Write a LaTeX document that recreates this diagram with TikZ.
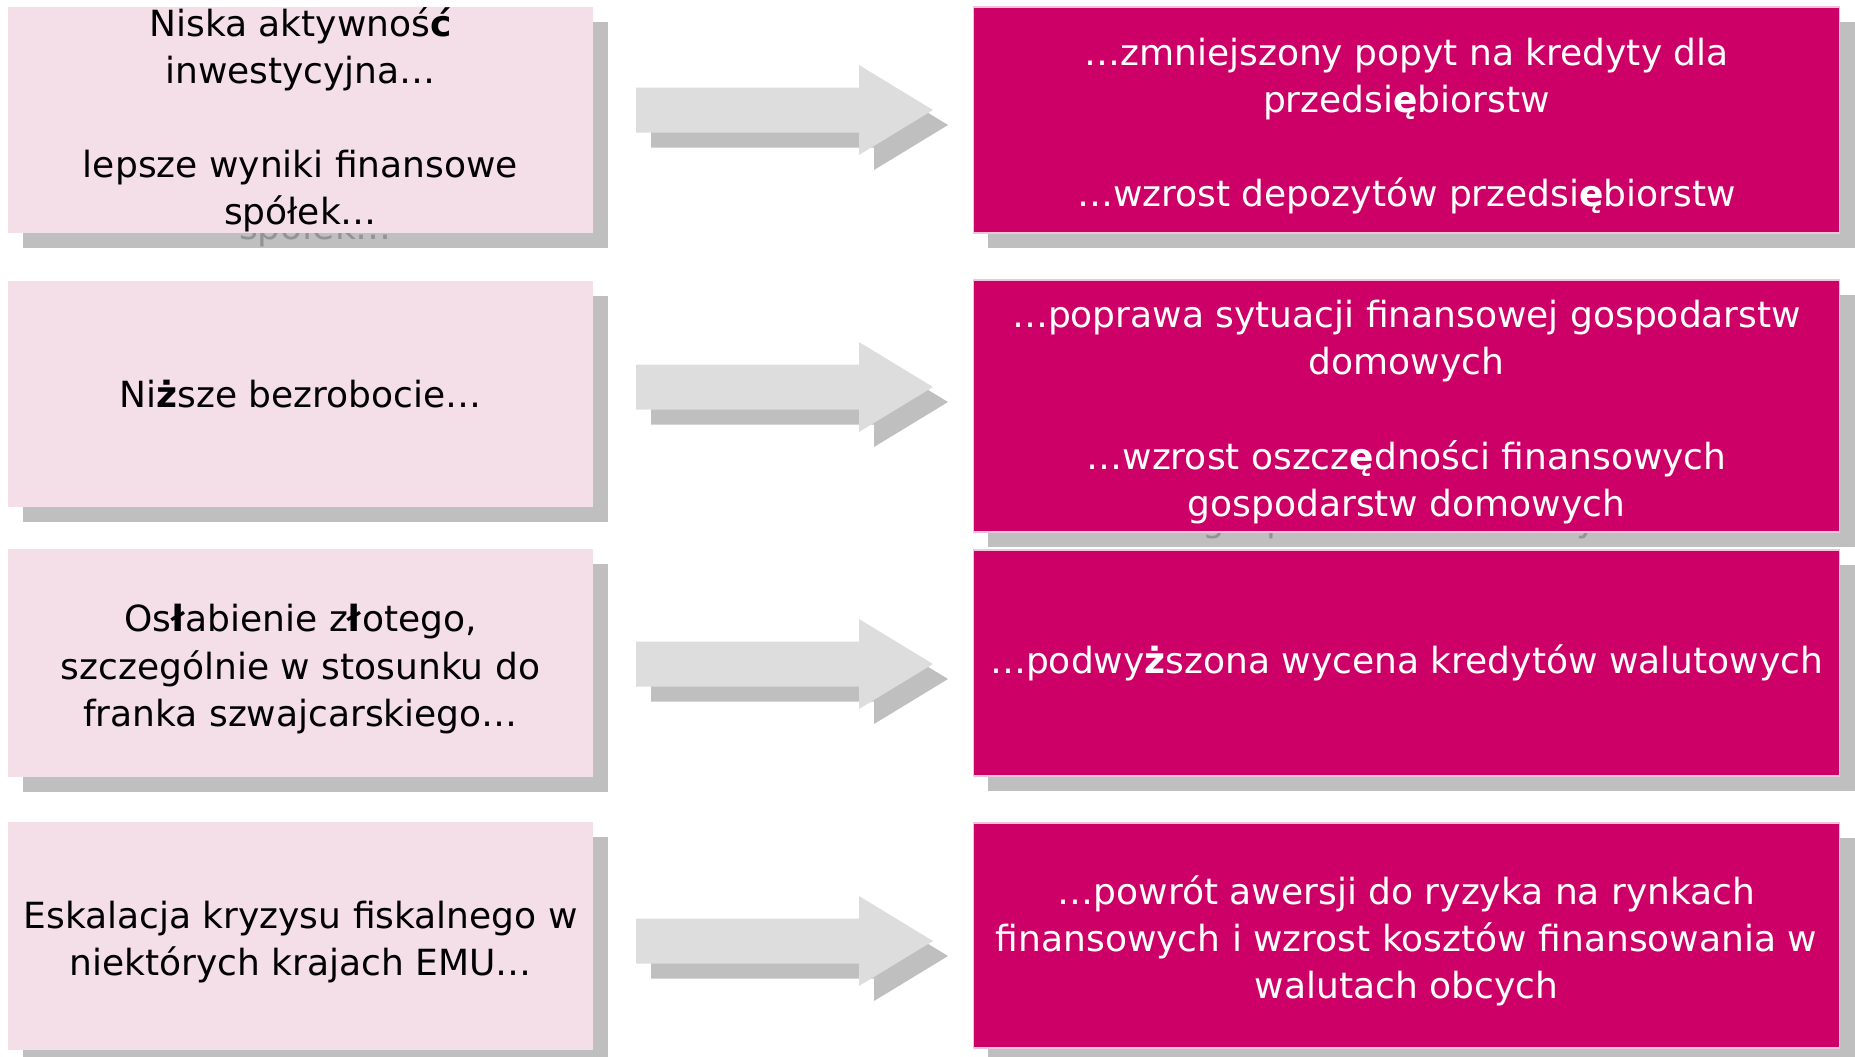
\documentclass[tikz,border=0pt]{standalone}
\usepackage{fontspec}
\setmainfont{DejaVu Sans}
\usetikzlibrary{calc}

\definecolor{srcpink}{HTML}{F4DEE7}
\definecolor{effmag}{HTML}{CC0066}
\definecolor{effedge}{HTML}{F2C4DA}
\definecolor{shadegray}{HTML}{BFBFBF}
\definecolor{ghostgray}{HTML}{939393}
\definecolor{arrowgray}{HTML}{DDDDDD}
\newcommand{\bc}[1]{\textbf{#1}}
\newcommand{\topgap}{\rule{0pt}{22.5pt}}
\newcommand{\blockarrow}[2]{\fill[#1,shift={#2}] (0,-22.5) -- (223,-22.5) -- (223,-45) -- (297,0) -- (223,45) -- (223,22.5) -- (0,22.5) -- cycle;}

\begin{document}
\begin{tikzpicture}[x=0.02cm,y=-0.02cm,
  every node/.style={inner sep=0pt,align=center,font=\fontsize{20.5}{26.8}\selectfont},
  srcbox/.style={fill=srcpink,minimum width=11.7cm,text=black},
  effbox/.style={fill=effmag,draw=effedge,line width=0.6pt,minimum width=17.34cm,text=white},
  shadebox/.style={fill=shadegray,draw=none,text=ghostgray}]
  \useasboundingbox (0,0) rectangle (1855,1056);
  \def\dd{15}
  \foreach \i/\y/\h/\ay/\txt in {
    1/120/226/110/{Niska aktywnoś\bc{ć}\\inwestycyjna…\\[26.8pt]lepsze wyniki finansowe\\spółek…},
    2/394/226/387/{Ni\bc{ż}sze bezrobocie…},
    3/663/228/664/{\topgap Os\bc{ł}abienie z\bc{ł}otego,\\szczególnie w stosunku do\\franka szwajcarskiego…},
    4/936/228/941/{\topgap Eskalacja kryzysu fiskalnego w\\niektórych krajach EMU…}}{
    \node[srcbox,shadebox,minimum height=\h*0.02cm] (L\i s) at (300.5+\dd,\y+\dd) {\txt};
    \node[srcbox,minimum height=\h*0.02cm] (L\i) at (300.5,\y) {\txt};
    \coordinate (A\i) at (636,\ay);
    \blockarrow{shadegray}{($(A\i)+(\dd,\dd)$)}
    \blockarrow{arrowgray}{(A\i)}
  }
  \foreach \i/\y/\h/\txt in {
    1/120/226/{\topgap …zmniejszony popyt na kredyty dla\\przedsi\bc{ę}biorstw\\[26.8pt]…wzrost depozytów przedsi\bc{ę}biorstw},
    2/406/252/{\topgap …poprawa sytuacji finansowej gospodarstw\\domowych\\[26.8pt]…wzrost oszcz\bc{ę}dności finansowych\\gospodarstw domowych},
    3/663/226/{…podwy\bc{ż}szona wycena kredytów walutowych},
    4/935.5/225/{\topgap …powrót awersji do ryzyka na rynkach\\finansowych i wzrost kosztów finansowania w\\walutach obcych}}{
    \node[effbox,shadebox,minimum height=\h*0.02cm] (R\i s) at (1406.5+\dd,\y+\dd) {\txt};
    \node[effbox,minimum height=\h*0.02cm] (R\i) at (1406.5,\y) {\txt};
  }
\end{tikzpicture}
\end{document}
